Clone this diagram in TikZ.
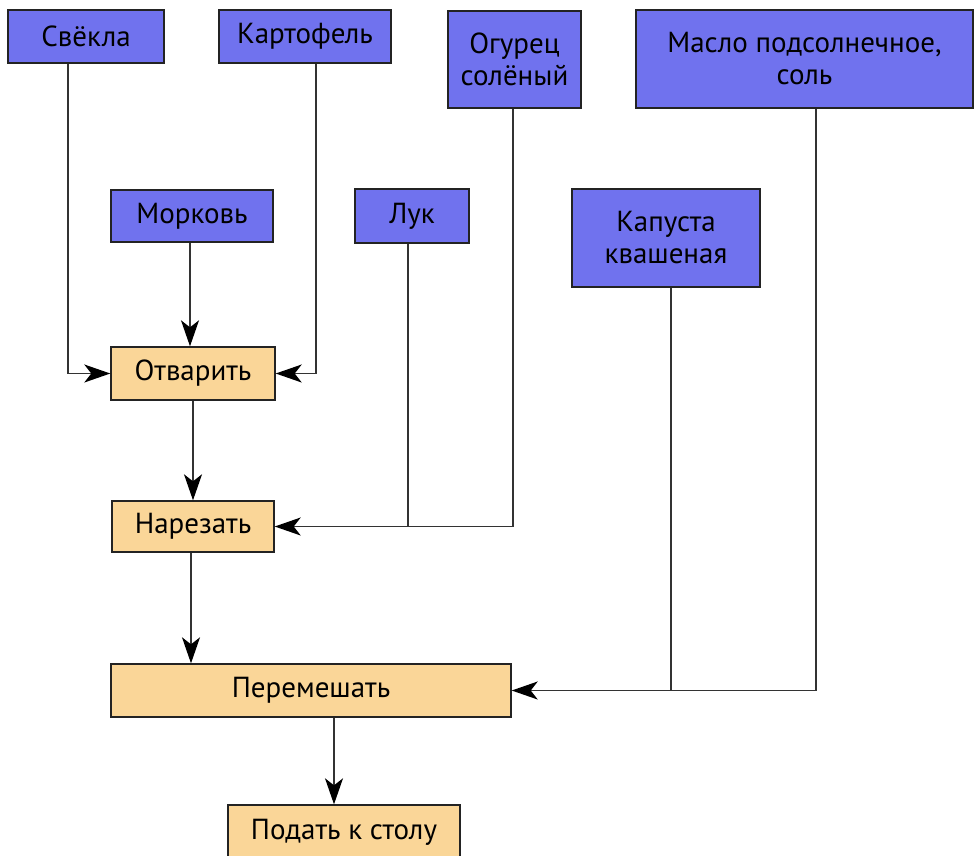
\documentclass[tikz,border=0pt]{standalone}
\usepackage{fontspec}
\setmainfont{PT Sans}
\usetikzlibrary{arrows.meta,calc}
\definecolor{ingblue}{RGB}{112,114,238}
\definecolor{stepor}{RGB}{250,214,152}
\definecolor{edgec}{RGB}{35,35,35}
\tikzset{
  base/.style={draw=edgec, line width=1.4pt, inner sep=0pt, align=center,
    font=\fontsize{29}{32}\selectfont, text=black},
  ing/.style={base, fill=ingblue},
  stepbox/.style={base, fill=stepor},
  conn/.style={draw=black!80, line width=1.4pt},
  arr/.style={conn, -{Stealth[length=26pt,width=18pt,inset=7pt,fill=black,color=black]}}
}
\begin{document}
\begin{tikzpicture}[x=1pt,y=-1pt]
\useasboundingbox (0,0) rectangle (976,855);
\clip (0,0) rectangle (976,855);
% ingredients
\node[ing, minimum width=156pt, minimum height=53pt] (svek) at (86,36.5) {Свёкла};
\node[ing, minimum width=172pt, minimum height=53pt] (kart) at (305,36.5) {Картофель};
\node[ing, minimum width=133pt, minimum height=97pt] (ogur) at (514.5,59.5) {Огурец\\солёный};
\node[ing, minimum width=337pt, minimum height=98pt] (maslo) at (804.5,59) {Масло подсолнечное,\\соль};
\node[ing, minimum width=162pt, minimum height=52pt] (mork) at (192,216) {Морковь};
\node[ing, minimum width=114pt, minimum height=54pt] (luk) at (412,216) {Лук};
\node[ing, minimum width=188pt, minimum height=98pt] (kap) at (666,238) {Капуста\\квашеная};
% steps
\node[stepbox, minimum width=164pt, minimum height=53pt] (otv) at (193,373.5) {Отварить};
\node[stepbox, minimum width=162pt, minimum height=51pt] (narez) at (193,526.5) {Нарезать};
\node[stepbox, minimum width=400pt, minimum height=53pt] (perem) at (311,690.5) {Перемешать};
\node[stepbox, minimum width=232pt, minimum height=54pt] (podat) at (344,832) {Подать к столу};
% coordinates for connector columns
\coordinate (svx) at ([xshift=-18pt]svek.south);
\coordinate (kax) at ([xshift=11pt]kart.south);
\coordinate (lux) at ([xshift=-4pt]luk.south);
\coordinate (ogx) at ([xshift=-1.5pt]ogur.south);
\coordinate (kpx) at ([xshift=5pt]kap.south);
\coordinate (max) at ([xshift=11.5pt]maslo.south);
\coordinate (pdx) at ([xshift=-10pt]podat.north);
% connectors
\draw[arr] (svx) |- (otv.west);
\draw[arr] (kax) |- (otv.east);
\draw[arr] ([xshift=-2pt]mork.south) -- ([xshift=-2pt]mork.south |- otv.north);
\draw[arr] (otv.south) -- (narez.north);
\draw[conn] (ogx) |- (lux |- narez.east);
\draw[arr] (lux) |- (narez.east);
\draw[arr] ([xshift=-2pt]narez.south) -- ([xshift=-2pt]narez.south |- perem.north);
\draw[conn] (max) |- (kpx |- perem.east);
\draw[arr] (kpx) |- (perem.east);
\draw[arr] (pdx |- perem.south) -- (pdx);
\end{tikzpicture}
\end{document}
